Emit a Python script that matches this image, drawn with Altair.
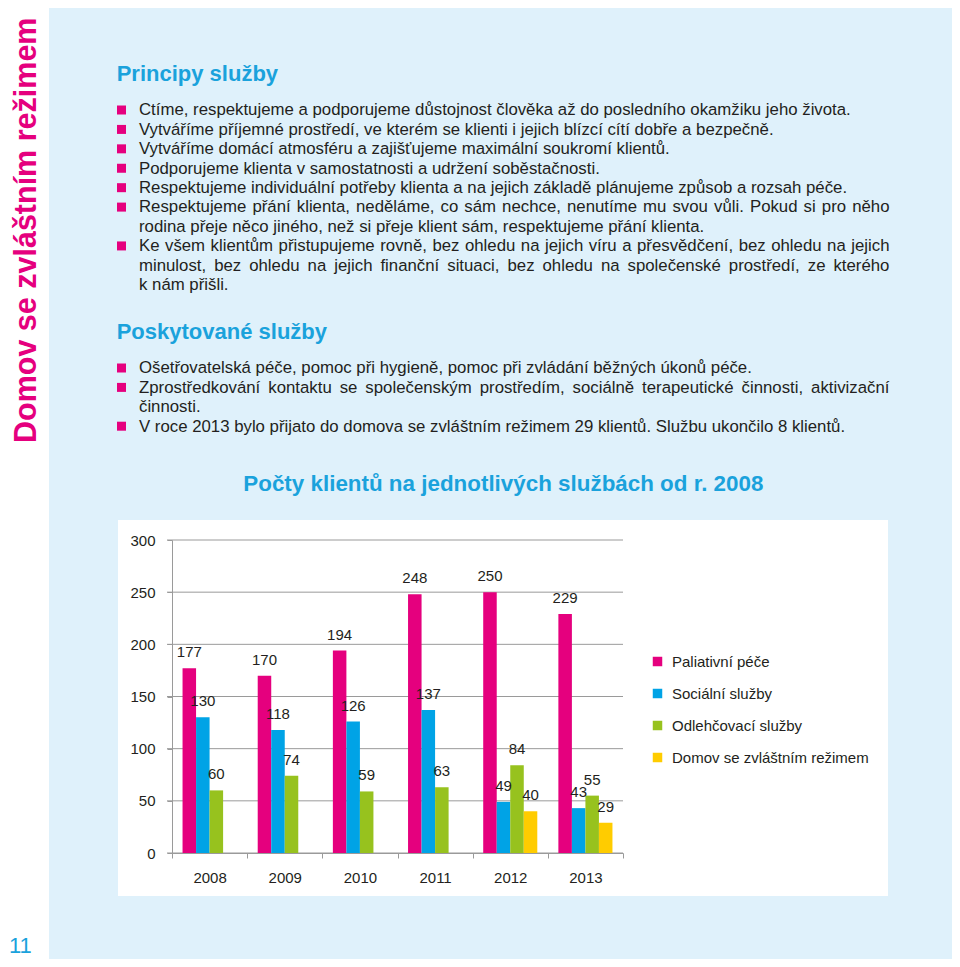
import unicodedata
import altair as alt
import pandas as pd

# ---------------- data ----------------
years = ["2008", "2009", "2010", "2011", "2012", "2013"]
services = ["Paliativní péče", "Sociální služby", "Odlehčovací služby", "Domov se zvláštním režimem"]
paliativni = [177, 170, 194, 248, 250, 229]
socialni = [130, 118, 126, 137, 49, 43]
odlehcovaci = [60, 74, 59, 63, 84, 55]
domov = [None, None, None, None, 40, 29]
y_ticks = [0, 50, 100, 150, 200, 250, 300]

side_title = "Domov se zvláštním režimem"
page_number = "11"
heading1 = "Principy služby"
heading2 = "Poskytované služby"
chart_title = "Počty klientů na jednotlivých službách od r. 2008"

# (text, bullet, justified)
section1 = [
    ("Ctíme, respektujeme a podporujeme důstojnost člověka až do posledního okamžiku jeho života.", True, False),
    ("Vytváříme příjemné prostředí, ve kterém se klienti i jejich blízcí cítí dobře a bezpečně.", True, False),
    ("Vytváříme domácí atmosféru a zajišťujeme maximální soukromí klientů.", True, False),
    ("Podporujeme klienta v samostatnosti a udržení soběstačnosti.", True, False),
    ("Respektujeme individuální potřeby klienta a na jejich základě plánujeme způsob a rozsah péče.", True, False),
    ("Respektujeme přání klienta, neděláme, co sám nechce, nenutíme mu svou vůli. Pokud si pro něho", True, True),
    ("rodina přeje něco jiného, než si přeje klient sám, respektujeme přání klienta.", False, False),
    ("Ke všem klientům přistupujeme rovně, bez ohledu na jejich víru a přesvědčení, bez ohledu na jejich", True, True),
    ("minulost, bez ohledu na jejich finanční situaci, bez ohledu na společenské prostředí, ze kterého", False, True),
    ("k nám přišli.", False, False),
]
section2 = [
    ("Ošetřovatelská péče, pomoc při hygieně, pomoc při zvládání běžných úkonů péče.", True, False),
    ("Zprostředkování kontaktu se společenským prostředím, sociálně terapeutické činnosti, aktivizační", True, True),
    ("činnosti.", False, False),
    ("V roce 2013 bylo přijato do domova se zvláštním režimem 29 klientů. Službu ukončilo 8 klientů.", True, False),
]

# ---------------- styles / layout ----------------
FONT = "Liberation Sans"
PINK = "#e5007e"
BLUE = "#00a3e6"
GREEN = "#97c21e"
YELLOW = "#ffcc00"
HEAD_BLUE = "#1aa2dc"
PANEL = "#dff1fb"
TEXT = "#231f20"
GRID = "#9a9a9a"

OX, OY = 172, 540          # page position of plot origin
W, H = 451, 313            # plot area
CANVAS_W, CANVAS_H = 944, 951


def rx(px):
    return px - OX


def ry(py):
    return py - OY


# Arial / Liberation Sans regular advance widths (1/1000 em)
_W = {' ': 278, ',': 278, '.': 278, ':': 278, '-': 333}
for ch in "0123456789":
    _W[ch] = 556
_W.update(dict(a=556, b=556, c=500, d=556, e=556, f=278, g=556, h=556, i=222, j=222, k=500, l=222, m=833,
               n=556, o=556, p=556, q=556, r=333, s=500, t=278, u=556, v=500, w=722, x=500, y=500, z=500,
               A=667, B=667, C=722, D=722, E=667, F=611, G=778, H=722, I=278, J=500, K=667, L=556, M=833,
               N=722, O=778, P=667, Q=778, R=722, S=667, T=611, U=722, V=667, W=944, X=667, Y=667, Z=611))
_W['í'] = 278


def text_width(s, size):
    total = 0
    for ch in s:
        if ch in _W:
            total += _W[ch]
        else:
            base = unicodedata.normalize("NFD", ch)[0]
            total += _W.get(base, 556)
    return total * size / 1000.0


BODY_SIZE = 16.8
TEXT_X = 139
RIGHT_X = 889.5


def build_lines(section, first_baseline, spacing):
    words, bullets = [], []
    for i, (line, bullet, just) in enumerate(section):
        base = first_baseline + i * spacing
        if bullet:
            bullets.append({"x": rx(121.5), "y": ry(base - 5.3)})
        if just:
            parts = line.split(" ")
            widths = [text_width(p, BODY_SIZE) for p in parts]
            gap = (RIGHT_X - TEXT_X - sum(widths)) / (len(parts) - 1)
            x = TEXT_X
            for p, wdt in zip(parts, widths):
                words.append({"x": rx(x), "y": ry(base), "t": p})
                x += wdt + gap
        else:
            words.append({"x": rx(TEXT_X), "y": ry(base), "t": line})
    return words, bullets


w1, b1 = build_lines(section1, 115.3, 19.42)
w2, b2 = build_lines(section2, 373.3, 19.4)
body_df = pd.DataFrame(w1 + w2)
bullet_df = pd.DataFrame(b1 + b2)

# ---------------- chart data ----------------
rows = []
for series, vals in zip(services, [paliativni, socialni, odlehcovaci, domov]):
    for yr, v in zip(years, vals):
        if v is not None:
            rows.append({"year": yr, "service": series, "value": v})
bars_df = pd.DataFrame(rows)
grid_df = pd.DataFrame({"v": y_ticks})


# ---------------- background layers ----------------
def rect_layer(x1, x2, y1, y2, fill):
    df = pd.DataFrame([{"x": rx(x1), "x2": rx(x2), "y": ry(y1), "y2": ry(y2)}])
    return alt.Chart(df).mark_rect(color=fill, opacity=1).encode(
        x=alt.X("x:Q", scale=None, axis=None),
        x2="x2:Q",
        y=alt.Y("y:Q", scale=None, axis=None),
        y2="y2:Q",
    )


panel = rect_layer(49, 958, 2, 963, PANEL)
white_box = rect_layer(118, 888, 520, 896, "#ffffff")

headings_df = pd.DataFrame([
    {"x": rx(116.7), "y": ry(81), "t": heading1},
    {"x": rx(116.7), "y": ry(339), "t": heading2},
])
headings = alt.Chart(headings_df).mark_text(
    align="left", baseline="alphabetic", font=FONT, fontWeight="bold", fontSize=22, color=HEAD_BLUE
).encode(
    x=alt.X("x:Q", scale=None, axis=None),
    y=alt.Y("y:Q", scale=None, axis=None),
    text="t:N",
)

title_df = pd.DataFrame([{"x": rx(243.3), "y": ry(490.7), "t": chart_title}])
title = alt.Chart(title_df).mark_text(
    align="left", baseline="alphabetic", font=FONT, fontWeight="bold", fontSize=22.4, color=HEAD_BLUE
).encode(
    x=alt.X("x:Q", scale=None, axis=None),
    y=alt.Y("y:Q", scale=None, axis=None),
    text="t:N",
)

body = alt.Chart(body_df).mark_text(
    align="left", baseline="alphabetic", font=FONT, fontSize=BODY_SIZE, color=TEXT
).encode(
    x=alt.X("x:Q", scale=None, axis=None),
    y=alt.Y("y:Q", scale=None, axis=None),
    text="t:N",
)

bullets = alt.Chart(bullet_df).mark_square(size=81, color=PINK, opacity=1).encode(
    x=alt.X("x:Q", scale=None, axis=None),
    y=alt.Y("y:Q", scale=None, axis=None),
)

side_df = pd.DataFrame([{"x": rx(36), "y": ry(443), "t": side_title}])
side = alt.Chart(side_df).mark_text(
    align="left", baseline="alphabetic", angle=270, font=FONT, fontWeight="bold", fontSize=30.5, color=PINK
).encode(
    x=alt.X("x:Q", scale=None, axis=None),
    y=alt.Y("y:Q", scale=None, axis=None),
    text="t:N",
)

pnum_df = pd.DataFrame([{"x": rx(9), "y": ry(953), "t": page_number}])
pnum = alt.Chart(pnum_df).mark_text(
    align="left", baseline="alphabetic", font=FONT, fontSize=22, color=HEAD_BLUE
).encode(
    x=alt.X("x:Q", scale=None, axis=None),
    y=alt.Y("y:Q", scale=None, axis=None),
    text="t:N",
)

# ---------------- bar chart ----------------
y_scale = alt.Scale(domain=[0, 300])
grid = alt.Chart(grid_df).mark_rule(color=GRID, strokeWidth=1).encode(
    y=alt.Y("v:Q", scale=y_scale, axis=alt.Axis(
        values=y_ticks, grid=False, title=None, labelFont=FONT, labelFontSize=15, labelColor=TEXT,
        domainColor=GRID, tickColor=GRID, tickSize=5, labelPadding=12, zindex=1)),
    x=alt.value(-5),
    x2=alt.value(W),
)

x_enc = alt.X("year:N", sort=years, scale=alt.Scale(paddingInner=0, paddingOuter=0), axis=alt.Axis(
    title=None, labelAngle=0, tickBand="extent", labelFont=FONT, labelFontSize=15, labelColor=TEXT,
    domainColor=GRID, tickColor=GRID, tickSize=5, labelPadding=12, zindex=1))
xo_enc = alt.XOffset("service:N", sort=services,
                     scale=alt.Scale(domain=services, paddingInner=0, paddingOuter=0.78))

bars = alt.Chart(bars_df).mark_bar(opacity=1).encode(
    x=x_enc,
    xOffset=xo_enc,
    y=alt.Y("value:Q", scale=y_scale),
    color=alt.Color("service:N", sort=services, scale=alt.Scale(domain=services, range=[PINK, BLUE, GREEN, YELLOW]),
                    legend=alt.Legend(title=None, orient="none", legendX=478, legendY=114, symbolType="square",
                                      symbolSize=90, symbolStrokeWidth=0, labelFont=FONT, labelFontSize=15,
                                      labelColor=TEXT, labelLimit=400, rowPadding=16, labelOffset=7, padding=0)),
)

labels = alt.Chart(bars_df).mark_text(
    baseline="middle", dy=-16, font=FONT, fontSize=15, color=TEXT
).encode(
    x=x_enc,
    xOffset=xo_enc,
    y=alt.Y("value:Q", scale=y_scale),
    text="value:Q",
)

chart = alt.layer(panel, white_box, headings, title, body, bullets, side, pnum, grid, bars, labels).properties(
    width=W,
    height=H,
    padding={"left": OX - 8, "top": OY - 8, "right": CANVAS_W - (OX - 8) - W, "bottom": CANVAS_H - (OY - 8) - H},
    autosize=alt.AutoSizeParams(type="none"),
    background="#ffffff",
).configure_view(stroke=None)

chart.save("out.html", embed_options={"renderer": "svg", "actions": False})
